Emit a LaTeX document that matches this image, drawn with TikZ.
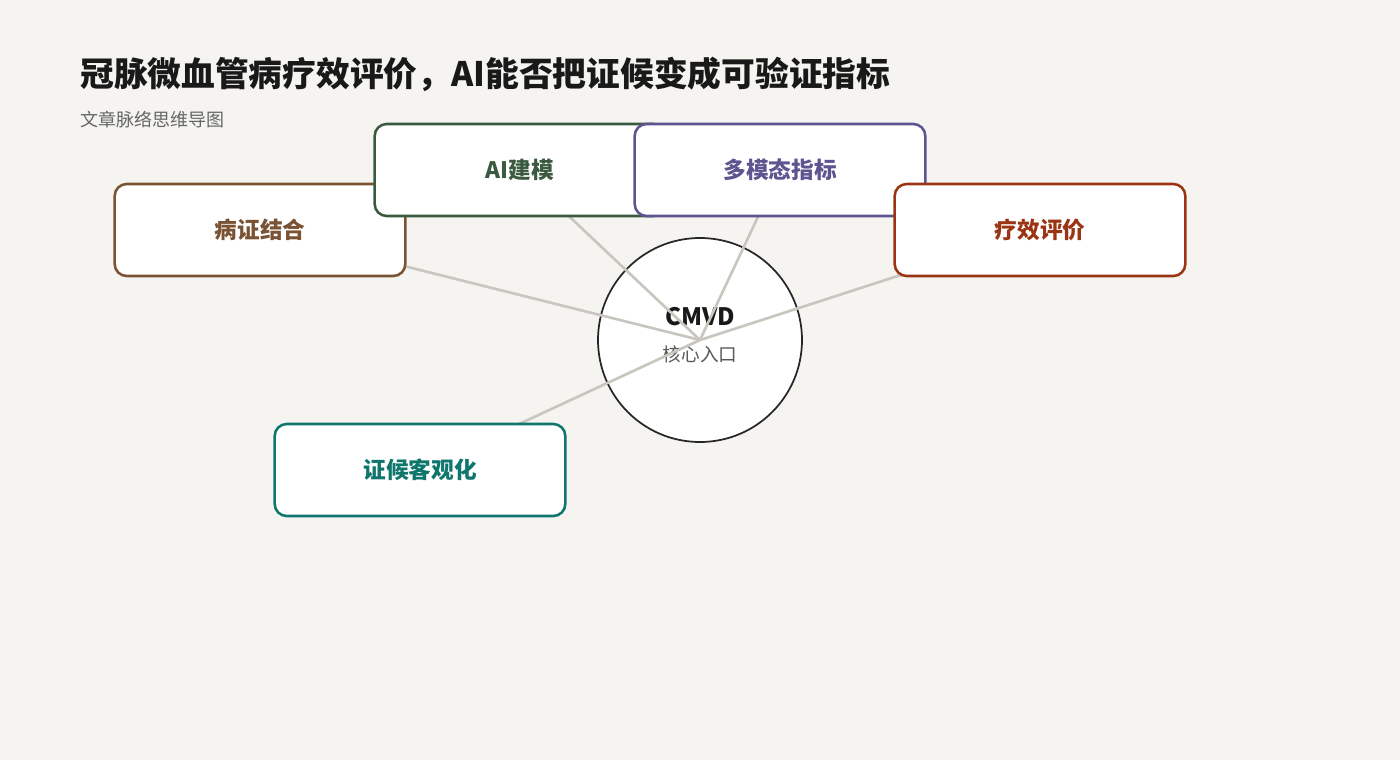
\documentclass[tikz,border=0pt]{standalone}
\usepackage{fontspec}
\setmainfont{Noto Sans CJK SC}
\definecolor{bgc}{HTML}{F5F4F0}
\definecolor{linkc}{HTML}{C8C6BE}
\definecolor{brownc}{HTML}{7A5234}
\definecolor{greenc}{HTML}{3A5A40}
\definecolor{purplec}{HTML}{5E5490}
\definecolor{redc}{HTML}{9A3412}
\definecolor{tealc}{HTML}{0F766E}
\tikzset{
  branch/.style={draw=#1, text=#1, fill=white, line width=1.9pt, rounded corners=9pt,
    minimum width=218pt, minimum height=69pt, font=\fontsize{17}{19}\selectfont\bfseries},
  link/.style={draw=linkc, line width=2pt},
}
\begin{document}
\begin{tikzpicture}[x=0.75pt,y=-0.75pt]
	\fill [bgc] (0,0) rectangle (1400,760);
	\node [anchor=base west, inner xsep=0pt, font=\fontsize{25.3}{28}\selectfont\bfseries, text=black!90] (title) at (80,86) {冠脉微血管病疗效评价，AI能否把证候变成可验证指标};
	\node [anchor=base west, inner xsep=0pt, font=\fontsize{13.5}{16}\selectfont, text=black!60] (sub) at (80,126) {文章脉络思维导图};
	% hub
	\node [circle, draw=black!85, fill=white, line width=1.3pt, minimum size=153pt] (hub) at (700,340) {};
	\node [font=\fontsize{18}{20}\selectfont\bfseries, text=black!90] (hubt) at (700,317) {CMVD};
	\node [font=\fontsize{14}{16}\selectfont, text=black!65] (hubs) at (700,354) {核心入口};
	% branch anchors
	\coordinate (p1) at (260,230);
	\coordinate (p2) at (520,170);
	\coordinate (p3) at (780,170);
	\coordinate (p4) at (1040,230);
	\coordinate (p5) at (420,470);
	\foreach \p in {p1,p2,p3,p4,p5}
		\draw [link] (hub.center) -- (\p);
	% branches
	\node [branch=brownc] (b1) at (p1) {病证结合};
	\node [branch=greenc] (b2) at (p2) {AI建模};
	\node [branch=purplec] (b3) at (p3) {多模态指标};
	\node [branch=redc] (b4) at (p4) {疗效评价};
	\node [branch=tealc] (b5) at (p5) {证候客观化};
\end{tikzpicture}
\end{document}
